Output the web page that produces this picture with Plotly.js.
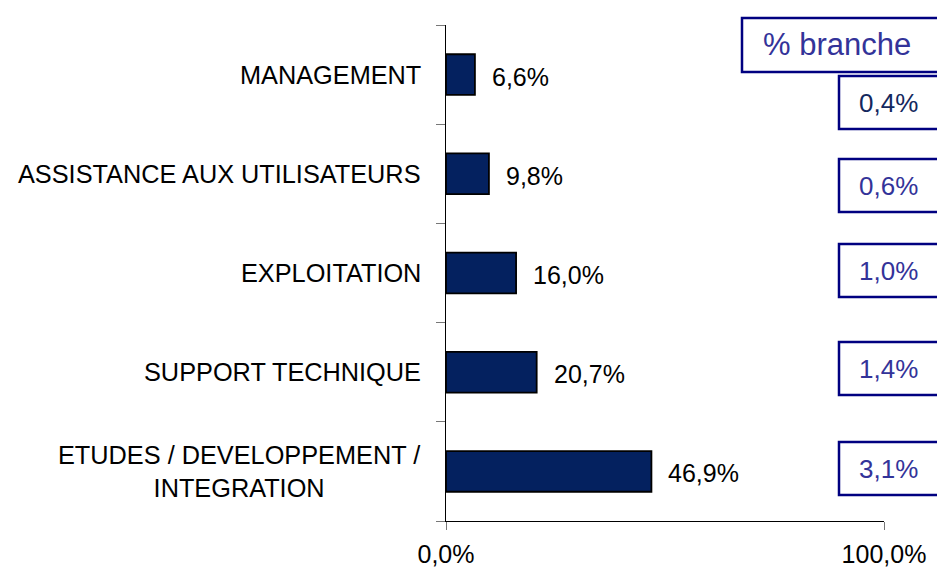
<!DOCTYPE html>
<html>
<head>
<meta charset="utf-8">
<script src="https://cdn.plot.ly/plotly-3.0.1.min.js"></script>
<style>html,body{margin:0;padding:0;background:#fff;}#chart{width:937px;height:571px;}</style>
</head>
<body>
<div id="chart"></div>
<script>
// Data (bottom to top)
var categories = ["ETUDES / DEVELOPPEMENT /<br>INTEGRATION", "SUPPORT TECHNIQUE", "EXPLOITATION", "ASSISTANCE AUX UTILISATEURS", "MANAGEMENT"];
var shares = [46.9, 20.7, 16.0, 9.8, 6.6];
var shareLabels = ["46,9%", "20,7%", "16,0%", "9,8%", "6,6%"];
var brancheTitle = "% branche";
var brancheLabels = ["3,1%", "1,4%", "1,0%", "0,6%", "0,4%"];
var xTickVals = [0, 100];
var xTickText = ["0,0%", "100,0%"];

var FONT = '"Liberation Sans", Arial, sans-serif';
// plot area pixel geometry
var L = 446, R = 884, T = 25, B = 521;
function px(x) { return (x - L) / (R - L); }
function py(y) { return (B - y) / (B - T); }

var trace = {
  type: 'bar', orientation: 'h',
  x: shares, y: categories,
  width: 0.41,
  marker: {color: '#04215f', line: {color: '#000000', width: 1.8}},
  hoverinfo: 'none'
};

var annotations = [];
// category labels (centered multi-line)
categories.forEach(function (c) {
  annotations.push({xref: 'paper', yref: 'y', x: 0, y: c, xanchor: 'right', yanchor: 'middle',
    xshift: -23, text: c, showarrow: false, align: 'center',
    font: {family: FONT, size: 25.3, color: '#000'}});
});
// value labels
shares.forEach(function (v, i) {
  annotations.push({xref: 'x', yref: 'y', x: v, y: categories[i], xanchor: 'left', yanchor: 'middle',
    xshift: 15, yshift: -2, text: shareLabels[i], showarrow: false,
    font: {family: FONT, size: 25, color: '#000'}});
});

// "% branche" boxes (pixel layout)
var boxTops = [442, 342, 244, 159, 76];
var boxH = 53;
var shapes = [];
shapes.push({type: 'rect', xref: 'paper', yref: 'paper', x0: px(742), x1: px(960), y0: py(72), y1: py(18),
  line: {color: '#000080', width: 2.5}, fillcolor: 'rgba(0,0,0,0)'});
annotations.push({xref: 'paper', yref: 'paper', x: px(837), y: py(44), xanchor: 'center', yanchor: 'middle',
  text: brancheTitle, showarrow: false, font: {family: FONT, size: 31, color: '#333399'}});
brancheLabels.forEach(function (t, i) {
  var top = boxTops[i];
  shapes.push({type: 'rect', xref: 'paper', yref: 'paper', x0: px(839), x1: px(960), y0: py(top + boxH), y1: py(top),
    line: {color: '#000080', width: 2.5}, fillcolor: 'rgba(0,0,0,0)'});
  annotations.push({xref: 'paper', yref: 'paper', x: px(888), y: py(top + boxH / 2), xanchor: 'center', yanchor: 'middle',
    text: t, showarrow: false,
    font: {family: FONT, size: 26, color: i === 4 ? '#13285e' : '#333399'}});
});

var layout = {
  width: 937, height: 571,
  margin: {l: L, r: 937 - R, t: T, b: 571 - B, pad: 0},
  paper_bgcolor: '#fff', plot_bgcolor: '#fff',
  showlegend: false,
  font: {family: FONT, size: 25, color: '#000'},
  xaxis: {range: [0, 100], tickvals: xTickVals, ticktext: xTickText,
    showgrid: false, zeroline: false, showline: true, linecolor: '#000', linewidth: 1,
    ticks: 'outside', ticklen: 8, tickcolor: '#777', tickwidth: 1,
    ticklabelstandoff: 3,
    tickfont: {family: FONT, size: 25, color: '#000'}, fixedrange: true},
  yaxis: {type: 'category', categoryorder: 'array', categoryarray: categories, range: [-0.5, 4.5],
    showgrid: false, zeroline: false, showline: true, linecolor: '#000', linewidth: 1,
    ticks: 'outside', tickson: 'boundaries', ticklen: 9, tickcolor: '#777', tickwidth: 1,
    showticklabels: false, fixedrange: true},
  annotations: annotations,
  shapes: shapes
};

Plotly.newPlot('chart', [trace], layout, {displayModeBar: false, staticPlot: true});
</script>
</body>
</html>
